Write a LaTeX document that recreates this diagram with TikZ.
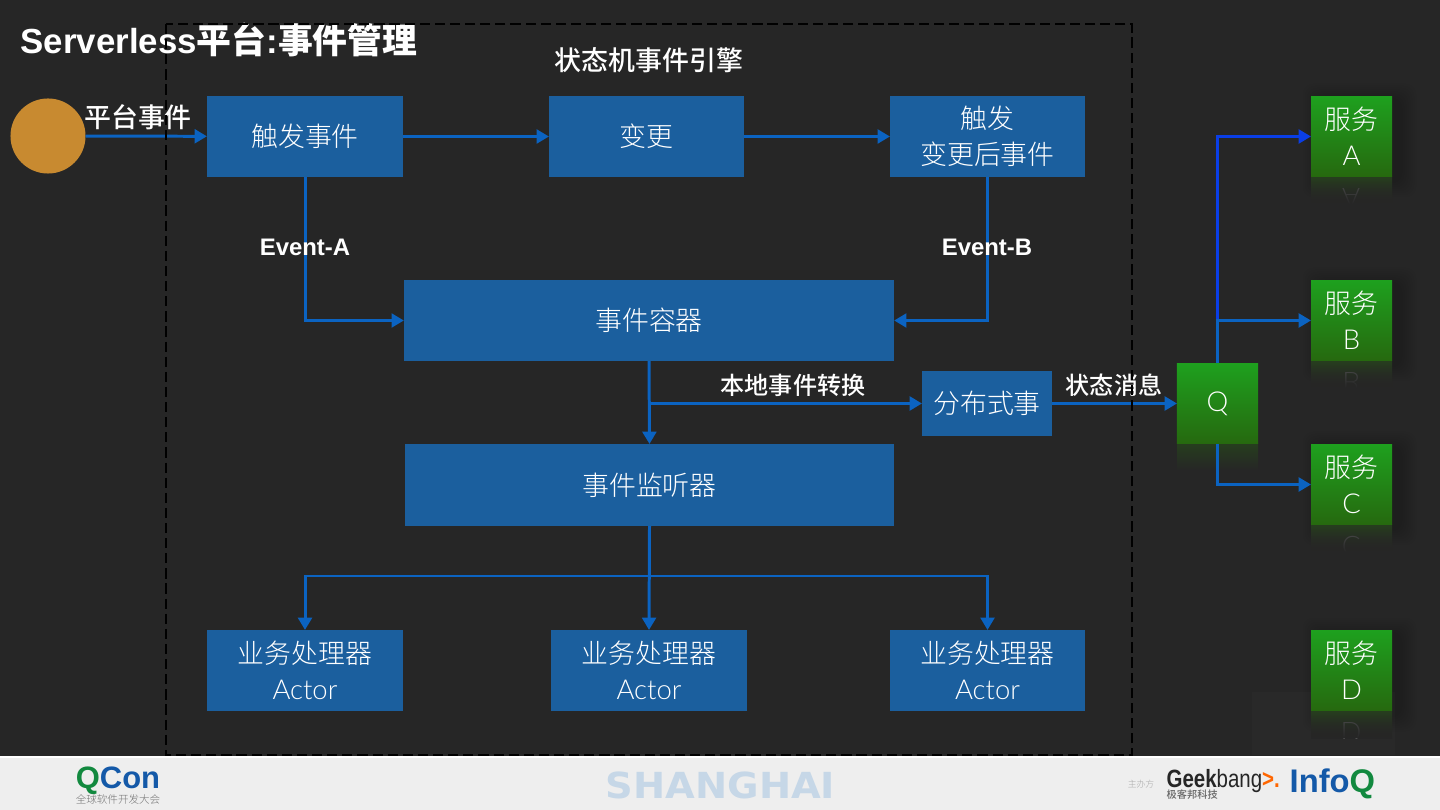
\documentclass[tikz,border=0pt]{standalone}
\usepackage{fontspec}
\setmainfont{Liberation Sans}
\newfontfamily\cjk{Noto Sans CJK SC Light}
\newfontfamily\cjkmed{Noto Sans CJK SC Medium}
\newfontfamily\heavy{DejaVu Sans Bold}
\newfontfamily\thinlatin{Lato Light}
\usetikzlibrary{arrows.meta,fadings}
\definecolor{slide}{HTML}{262626}
\definecolor{boxblue}{HTML}{1B5F9E}
\definecolor{wire}{HTML}{0B63C1}
\definecolor{brightwire}{HTML}{0A3EE6}
\definecolor{orangedot}{HTML}{C88A30}
\definecolor{greentop}{HTML}{1EA01E}
\definecolor{greenbot}{HTML}{26690F}
\definecolor{strip}{HTML}{EEEEEE}
\definecolor{logoblue}{HTML}{1459A8}
\definecolor{logogreen}{HTML}{12893F}
\newcommand{\latinpart}[1]{{\fontsize{7.8}{10.3}\selectfont\thinlatin #1}}
\tikzset{
  boxtext/.style={text=white,align=center,font=\fontsize{7.65}{10.3}\selectfont\cjk},
  bluebox/.style={boxtext,fill=boxblue,inner sep=0pt,outer sep=0pt,minimum width=1.95cm,minimum height=0.81cm},
  greenbox/.style={boxtext,top color=greentop,bottom color=greenbot,inner sep=0pt,outer sep=0pt,minimum width=0.81cm,minimum height=0.80cm},
  wirelabel/.style={text=white,font=\fontsize{6.8}{8}\selectfont\bfseries},
  cjklabel/.style={text=white,font=\fontsize{7.65}{8}\selectfont\cjkmed},
  smalllabel/.style={text=white,font=\fontsize{6.85}{8}\selectfont\cjkmed},
  wireline/.style={wire,line width=0.85pt,-{Triangle[length=3.5pt,width=3.9pt]}},
  mirror/.style={text=white!20!slide,yscale=-1,transform shape,font=\fontsize{7.8}{10}\selectfont\thinlatin}
}
\begin{document}
\begin{tikzpicture}[x=0.01cm,y=-0.01cm]
  \useasboundingbox (0,0) rectangle (1440,810);
  \fill[slide] (0,0) rectangle (1440,810);
  % faint watermark behind the last service
  \fill[white!1.5!slide] (1252,692) rectangle (1395,755);

  % Engine name
  \node[cjklabel] (engine) at (649,60) {状态机事件引擎};

  % Source of the platform events
  \node[circle,fill=orangedot,inner sep=0pt,outer sep=0pt,minimum size=0.75cm] (source) at (48,136) {};

  % Upper row
  \node[bluebox,minimum width=1.96cm] (trigger) at (305,136.5) {触发事件};
  \node[bluebox] (change) at (646.5,136.5) {变更};
  \node[bluebox] (after) at (987.5,136.5) {触发\\变更后事件};

  % Event container and listener
  \node[bluebox,minimum width=4.9cm] (container) at (649,320.5) {事件容器};
  \node[bluebox,minimum width=4.89cm,minimum height=0.82cm] (listener) at (649.5,485) {事件监听器};
  \node[bluebox,minimum width=1.3cm,minimum height=0.65cm] (dist) at (987,403.5) {分布式事};

  % Handlers
  \node[bluebox,minimum width=1.96cm] (actorA) at (305,670.5) {业务处理器\\\latinpart{Actor}};
  \node[bluebox,minimum width=1.96cm] (actorB) at (649,670.5) {业务处理器\\\latinpart{Actor}};
  \node[bluebox] (actorC) at (987.5,670.5) {业务处理器\\\latinpart{Actor}};

  % Shadows and reflections of the green boxes
  \foreach \top/\letter in {96/A,280/B,444/C,630/D}{
    \pgfmathsetmacro{\low}{\top+81}
    \foreach \grow in {2,4,...,16}
      \fill[black,opacity=0.022,rounded corners=0.1cm] (1311+8-\grow,\top+4-\grow) rectangle (1392+8+\grow,\low+4+\grow);
    \fill[top color=greenbot!35!slide,bottom color=slide] (1311,\low) rectangle (1392,\low+27);
    \begin{scope}
      \clip (1311,\low) rectangle (1392,\low+27);
      \node[mirror] (mirror\letter) at (1351,\low+21) {\letter};
    \end{scope}
    \fill[slide,path fading=north] (1311,\low+2) rectangle (1392,\low+27);
  }
  \fill[top color=greenbot!35!slide,bottom color=slide] (1177,444) rectangle (1258,470);

  % Queue and services
  \node[greenbox] (queue) at (1217.5,403.5) {\latinpart{Q}};
  \node[greenbox] (svcA) at (1351.5,136.5) {服务\\\latinpart{A}};
  \node[greenbox] (svcB) at (1351.5,320.5) {服务\\\latinpart{B}};
  \node[greenbox] (svcC) at (1351.5,484.5) {服务\\\latinpart{C}};
  \node[greenbox] (svcD) at (1351.5,670.5) {服务\\\latinpart{D}};

  % Helper points on the wires
  \coordinate (fork) at (649,403.5);
  \coordinate (bus) at (649,576);

  % Connectors
  \draw[wireline] (source) -- (trigger);
  \draw[wireline] (trigger) -- (change);
  \draw[wireline] (change) -- (after);
  \draw[wireline] (trigger.south) |- (container.west);
  \draw[wireline] (after.south) |- (container.east);
  \draw[wireline] (container.south) -- (listener.north);
  \draw[wireline] (fork) -- (dist.west);
  \draw[wireline] (dist) -- (queue);
  \draw[wireline] (listener.south) -- (actorB.north);
  \draw[wireline] (bus) -| (actorA.north);
  \draw[wireline] (bus) -| (actorC.north);
  \draw[wireline,brightwire] (queue.north) |- (svcA.west);
  \draw[wireline] (queue.north) |- (svcB.west);
  \draw[wireline] (queue.south) |- (svcC.west);

  % Title and wire labels
  \node[anchor=west,text=white,inner sep=0pt,font=\fontsize{9.9}{12}\selectfont\bfseries] (title) at (20,40) {Serverless{\cjkmed 平台}:{\cjkmed 事件管理}};
  \node[cjklabel] (platform) at (138,117) {平台事件};
  \node[wirelabel] (eventA) at (305,247) {Event-A};
  \node[wirelabel] (eventB) at (987,247) {Event-B};
  \node[smalllabel] (convert) at (793,385) {本地事件转换};
  \node[smalllabel] (status) at (1114,385) {状态消息};

  % Frame of the state machine engine
  \draw[black,line width=0.33pt,dash pattern=on 2.9pt off 1.4pt] (166,24) rectangle (1132,755);

  % Footer strip
  \fill[white] (0,756) rectangle (1440,810);
  \fill[strip] (0,758) rectangle (1440,810);
  \node[logoblue,inner sep=0pt,font=\fontsize{8.8}{10}\selectfont\bfseries] (qcon) at (118,781) {{\color{logogreen}Q}Con};
  \node[text=black!55,inner sep=0pt,font=\fontsize{3}{4}\selectfont\cjk] (qconsub) at (118,799) {全球软件开发大会};
  \node[text=boxblue!25!white,inner sep=0pt,xscale=1.07,transform shape,font=\fontsize{10.2}{12}\selectfont\heavy] (city) at (720.5,785) {SHANGHAI};
  \node[text=black!35,inner sep=0pt,font=\fontsize{2.5}{3}\selectfont\cjk] (host) at (1141,784) {主办方};
  \node[text=black!85,inner sep=0pt,anchor=west,xscale=0.82,transform shape,font=\fontsize{7.1}{8}\selectfont] (geek) at (1166,781) {\bfseries Geek\mdseries bang{\bfseries\color{orange!80!red}>.}};
  \node[text=black!60,inner sep=0pt,anchor=west,font=\fontsize{2.9}{3}\selectfont\cjkmed] (geeksub) at (1166,795) {极客邦科技};
  \node[logoblue,inner sep=0pt,anchor=west,font=\fontsize{9.3}{10}\selectfont\bfseries] (infoq) at (1289,784) {Info{\color{logogreen}Q}};
\end{tikzpicture}
\end{document}
